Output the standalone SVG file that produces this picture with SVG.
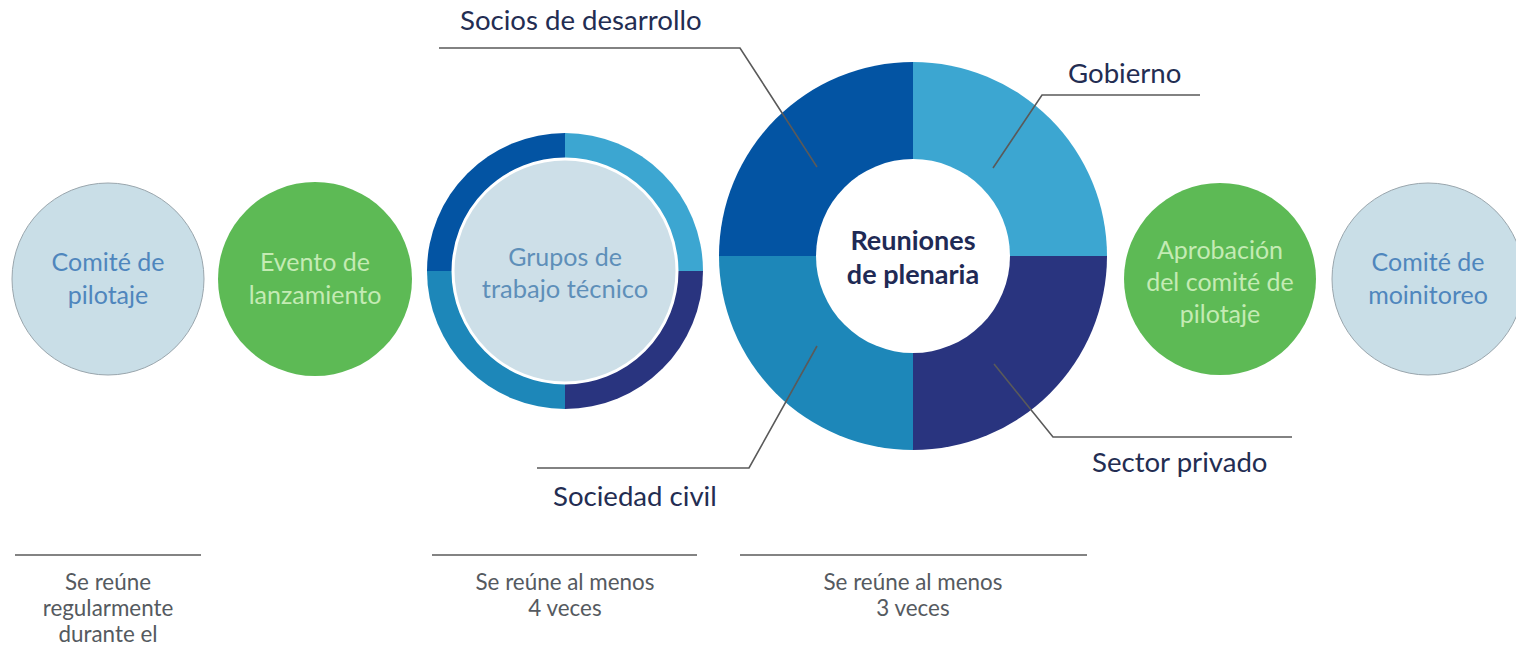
<svg xmlns="http://www.w3.org/2000/svg" width="1516" height="646" viewBox="0 0 1516 646">
<style>
.lc{fill:#c9dee7;stroke:#9aa6ad;stroke-width:1}
.gc{fill:#5dba55}
.lt{font-family:Lato,"Liberation Sans",sans-serif;font-size:25px;fill:#4f86bd;text-anchor:middle}
.gt{font-family:Lato,"Liberation Sans",sans-serif;font-size:25px;fill:#c4ebb4;text-anchor:middle}
.lab{font-family:Lato,"Liberation Sans",sans-serif;font-size:27.6px;fill:#232d52}
.bt{font-family:Lato,"Liberation Sans",sans-serif;font-size:22.4px;fill:#555a60;text-anchor:middle}
.ct{font-family:Lato,"Liberation Sans",sans-serif;font-size:27px;font-weight:bold;fill:#1f2a55;text-anchor:middle}
.ld{fill:none;stroke:#5a5a5a;stroke-width:1.6}
.q1{fill:#0354a3}.q2{fill:#3ca6d1}.q3{fill:#29347f}.q4{fill:#1d87b9}
</style>
<g id="comite-pilotaje">
<circle class="lc" cx="108" cy="279" r="96"/>
<text class="lt" x="108" y="271">Comité de</text>
<text class="lt" x="108" y="304">pilotaje</text>
</g>
<g id="evento-lanzamiento">
<circle class="gc" cx="315" cy="279" r="97"/>
<text class="gt" x="315" y="271">Evento de</text>
<text class="gt" x="315" y="304">lanzamiento</text>
</g>
<g id="grupos-trabajo">
<path class="q1" d="M565 271 L427 271 A138 138 0 0 1 565 133 Z"/>
<path class="q2" d="M565 271 L565 133 A138 138 0 0 1 703 271 Z"/>
<path class="q3" d="M565 271 L703 271 A138 138 0 0 1 565 409 Z"/>
<path class="q4" d="M565 271 L565 409 A138 138 0 0 1 427 271 Z"/>
<circle cx="565" cy="271" r="112" fill="#cddfe8" stroke="#ffffff" stroke-width="3"/>
<text class="lt" x="565" y="266" style="fill:#5e8fb9">Grupos de</text>
<text class="lt" x="565" y="298" style="fill:#5e8fb9;font-size:25.5px">trabajo técnico</text>
</g>
<g id="reuniones-plenaria">
<path class="q1" d="M913 256 L719 256 A194 194 0 0 1 913 62 Z"/>
<path class="q2" d="M913 256 L913 62 A194 194 0 0 1 1107 256 Z"/>
<path class="q3" d="M913 256 L1107 256 A194 194 0 0 1 913 450 Z"/>
<path class="q4" d="M913 256 L913 450 A194 194 0 0 1 719 256 Z"/>
<circle cx="913" cy="256" r="97" fill="#ffffff"/>
<text class="ct" x="913" y="250">Reuniones</text>
<text class="ct" x="913" y="284">de plenaria</text>
</g>
<g id="aprobacion">
<circle class="gc" cx="1220" cy="279" r="96"/>
<text class="gt" x="1220" y="259">Aprobación</text>
<text class="gt" x="1220" y="291">del comité de</text>
<text class="gt" x="1220" y="323">pilotaje</text>
</g>
<g id="comite-monitoreo">
<circle class="lc" cx="1428" cy="279" r="96"/>
<text class="lt" x="1428" y="271">Comité de</text>
<text class="lt" x="1428" y="304">moinitoreo</text>
</g>
<g id="connectors">
<polyline class="ld" points="439,48 740,48 817,167"/>
<polyline class="ld" points="1200,95 1042,95 993,168"/>
<polyline class="ld" points="1292,437 1053,437 994,364"/>
<polyline class="ld" points="537,468 749,468 817,346"/>
<line class="ld" x1="15" y1="555" x2="201" y2="555"/>
<line class="ld" x1="432" y1="555" x2="697" y2="555"/>
<line class="ld" x1="740" y1="555" x2="1087" y2="555"/>
</g>
<g id="labels">
<text class="lab" x="460" y="30">Socios de desarrollo</text>
<text class="lab" x="1068" y="83">Gobierno</text>
<text class="lab" x="1092" y="472">Sector privado</text>
<text class="lab" x="553" y="506">Sociedad civil</text>
</g>
<g id="notes">
<text class="bt" x="108" y="590">Se reúne</text>
<text class="bt" x="108" y="616">regularmente</text>
<text class="bt" x="108" y="642">durante el</text>
<text class="bt" x="565" y="590">Se reúne al menos</text>
<text class="bt" x="565" y="616">4 veces</text>
<text class="bt" x="913" y="590">Se reúne al menos</text>
<text class="bt" x="913" y="616">3 veces</text>
</g>
</svg>
